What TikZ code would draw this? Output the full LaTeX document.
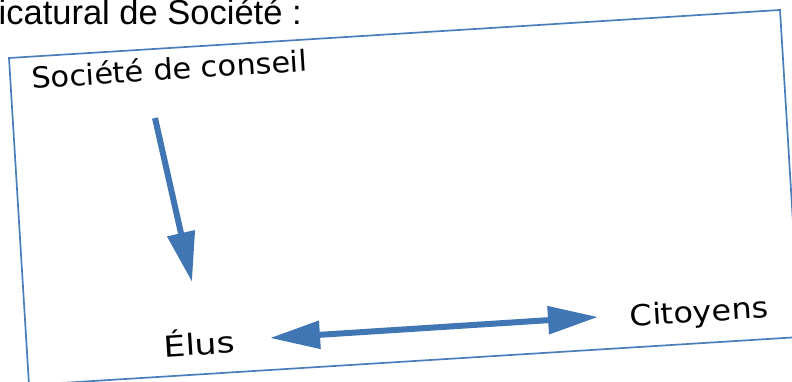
\documentclass[tikz,border=0pt]{standalone}
\usepackage{fontspec}
\setmainfont{Liberation Sans}
\newfontfamily\handfont{DejaVu Sans}
\usepackage{tikz}
\usetikzlibrary{arrows.meta,positioning}
\definecolor{frameblue}{HTML}{4A7EBB}
\definecolor{arrowblue}{HTML}{3F76B3}
\tikzset{>/.tip={Triangle[length=50pt,width=27pt]}}
\tikzset{hand/.style={font=\handfont\fontsize{29}{32}\selectfont,inner sep=0pt,rotate=3.6,anchor=base}}

\begin{document}
\begin{tikzpicture}[x=1pt,y=1pt]
      \useasboundingbox (0,0) rectangle (792,382);
      \clip (0,0) rectangle (792,382);
      \node[anchor=base west,inner sep=0pt,font=\fontsize{34.5}{38}\selectfont](title) at (-1.5,357){icatural de Société :};
      \draw[frameblue,line width=1.7pt,line join=miter] (9,324) -- (780,372) -- (800,45) -- (29,-3) -- cycle;

      \node[hand,xscale=1.05](conseil) at (170,302){Société de conseil};
      \node[hand,xscale=1.2](elus) at (200,27){Élus};
      \node[hand,xscale=1.1](citoyens) at (700,60){Citoyens};

      \draw[arrowblue,line width=6pt,->] ([shift={(-15,-38)}]conseil.base) -- ([shift={(-8,73)}]elus.base);
      \draw[arrowblue,line width=6pt,<->] ([shift={(70,17)}]elus.base) -- ([shift={(-102,5)}]citoyens.base);
    \end{tikzpicture}
\end{document}
